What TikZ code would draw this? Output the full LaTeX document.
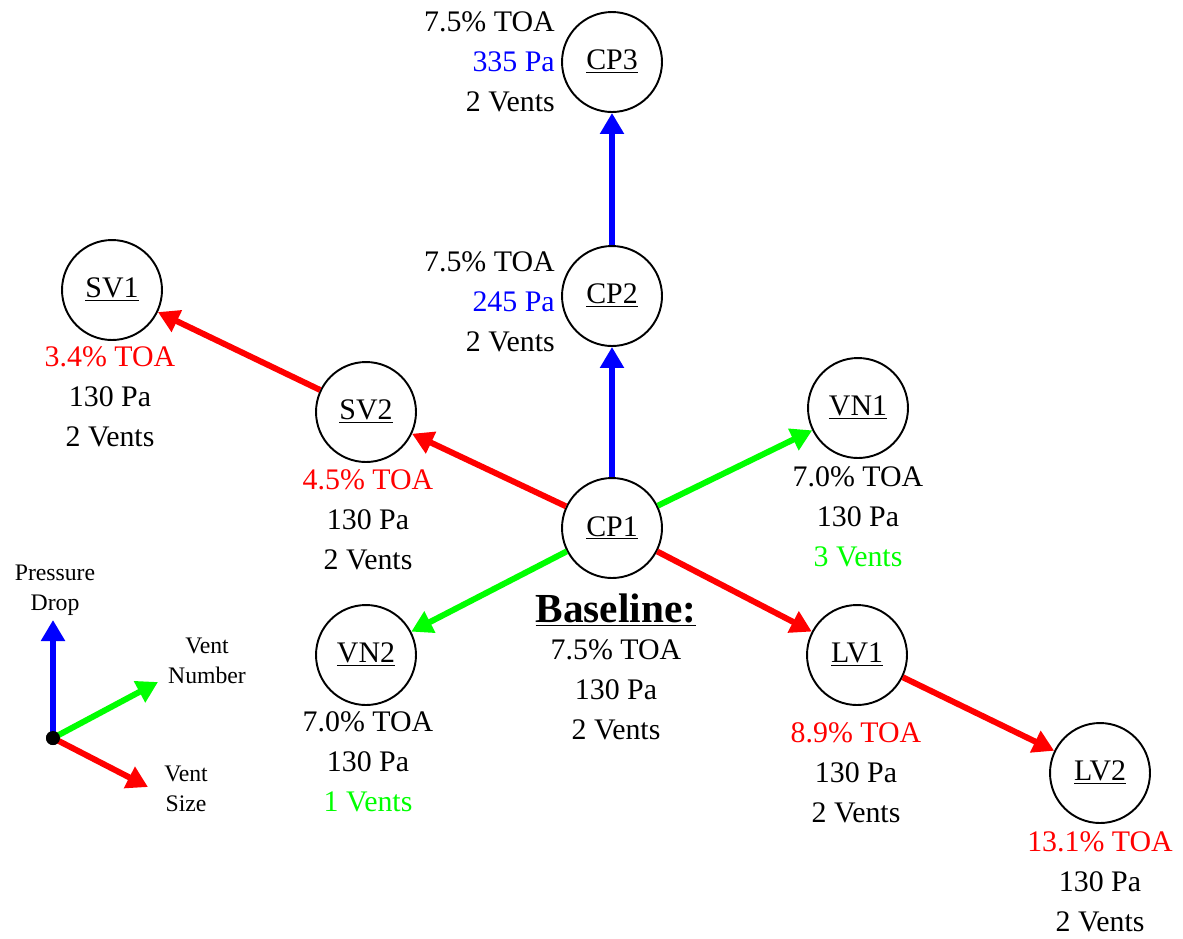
\documentclass[tikz,border=0pt]{standalone}
\usepackage{fontspec}
\setmainfont{Liberation Serif}
\usetikzlibrary{arrows.meta, positioning}
\definecolor{sizered}{RGB}{255,0,0}
\definecolor{numgreen}{RGB}{0,255,0}
\definecolor{dropblue}{RGB}{0,0,255}

\begin{document}
\begin{tikzpicture}[x=0.02cm, y=-0.02cm,
    caso/.style={circle, draw, line width=1.1pt, minimum size=2cm, inner sep=0pt,
      font=\fontsize{17}{22.7}\selectfont},
    info/.style={align=center, inner sep=0pt, font=\fontsize{17}{22.7}\selectfont},
    freccia/.style={line width=3.4pt, -{Triangle[length=0.42cm, width=0.46cm]}},
    leg/.style={align=center, inner sep=0pt, font=\fontsize{13.5}{17}\selectfont}]
        \useasboundingbox (0,0) rectangle (1183,938);

        % Casi (cerchi)
        \node[caso] (cp1) at (612,528) {\underline{CP1}};
        \node[caso] (cp2) at (612,296) {\underline{CP2}};
        \node[caso] (cp3) at (612,62)  {\underline{CP3}};
        \node[caso] (sv2) at (366,412) {\underline{SV2}};
        \node[caso] (sv1) at (112,290) {\underline{SV1}};
        \node[caso] (vn1) at (858,408) {\underline{VN1}};
        \node[caso] (vn2) at (366,655) {\underline{VN2}};
        \node[caso] (lv1) at (857,655) {\underline{LV1}};
        \node[caso] (lv2) at (1100,773) {\underline{LV2}};

        % Frecce tra i casi
        \draw[freccia, dropblue] (cp1) -- (cp2);
        \draw[freccia, dropblue] (cp2) -- (cp3);
        \draw[freccia, sizered] (cp1) -- (sv2);
        \draw[freccia, sizered] (sv2) -- (sv1);
        \draw[freccia, sizered] (cp1) -- (lv1);
        \draw[freccia, sizered] (lv1) -- (lv2);
        \draw[freccia, numgreen] (cp1) -- (vn1);
        \draw[freccia, numgreen] (cp1) -- (vn2);

        % Etichette dei casi
        \node[info, align=right, anchor=east] (t-cp3) at (555,62)
          {7.5\% TOA\\{\color{dropblue}335 Pa}\\2 Vents};
        \node[info, align=right, anchor=east] (t-cp2) at (555,302)
          {7.5\% TOA\\{\color{dropblue}245 Pa}\\2 Vents};
        \node[info] (t-sv1) at (110,397) {{\color{sizered}3.4\% TOA}\\130 Pa\\2 Vents};
        \node[info] (t-sv2) at (368,520) {{\color{sizered}4.5\% TOA}\\130 Pa\\2 Vents};
        \node[info] (t-vn1) at (858,517) {7.0\% TOA\\130 Pa\\{\color{numgreen}3 Vents}};
        \node[info] (t-vn2) at (368,762) {7.0\% TOA\\130 Pa\\{\color{numgreen}1 Vents}};
        \node[info] (t-lv1) at (856,773) {{\color{sizered}8.9\% TOA}\\130 Pa\\2 Vents};
        \node[info] (t-lv2) at (1100,882) {{\color{sizered}13.1\% TOA}\\130 Pa\\2 Vents};

        % Caso base
        \node[inner sep=0pt, font=\fontsize{23.5}{27}\selectfont\bfseries] (base) at (616,610)
          {\underline{Baseline:}};
        \node[info] (t-cp1) at (616,690) {7.5\% TOA\\130 Pa\\2 Vents};

        % Legenda
        \node[circle, fill, minimum size=0.28cm, inner sep=0pt] (orig) at (53,738) {};
        \coordinate (asse-p) at (53,620);
        \coordinate (asse-n) at (158,682);
        \coordinate (asse-s) at (148,787);
        \draw[freccia, dropblue] (orig.center) -- (asse-p);
        \draw[freccia, numgreen] (orig.center) -- (asse-n);
        \draw[freccia, sizered] (orig.center) -- (asse-s);
        \node[circle, fill, minimum size=0.28cm, inner sep=0pt] at (orig) {};
        \node[leg] (l-p) at (55,590) {Pressure\\Drop};
        \node[leg] (l-n) at (207,661) {Vent\\Number};
        \node[leg] (l-s) at (186,789) {Vent\\Size};
    \end{tikzpicture}
\end{document}
